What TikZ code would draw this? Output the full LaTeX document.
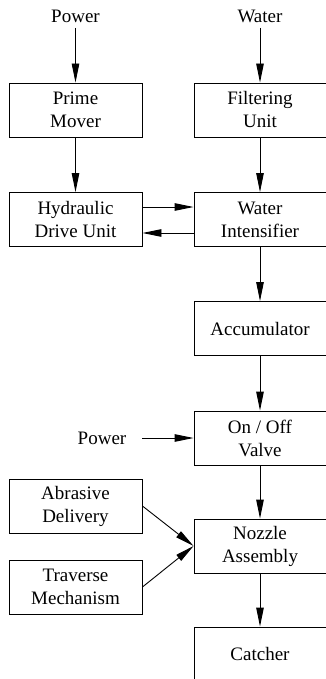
\documentclass[tikz,border=0pt]{standalone}
\usepackage{fontspec}
\setmainfont{Liberation Serif}
\usetikzlibrary{arrows.meta}
\begin{document}
\begin{tikzpicture}[x=1pt,y=-1pt,
  box/.style={draw,line width=0.9pt,minimum width=133pt,minimum height=54pt,inner sep=0pt,align=center,
    font=\fontsize{19}{23}\selectfont},
  rbox/.style={box,minimum width=132pt},
  lab/.style={font=\fontsize{19}{23}\selectfont,inner sep=0pt},
  arr/.style={line width=0.9pt,-{Triangle[length=19pt,width=7.5pt]}}]
\useasboundingbox (0,0) rectangle (326,679);
\node[lab] (pw1) at (75.5,16) {Power};
\node[lab] (wt) at (260,16) {Water};
\node[box] (pm) at (75.5,110) {Prime\\Mover};
\node[rbox] (fu) at (260,110) {Filtering\\Unit};
\node[box] (hd) at (75.5,219.5) {Hydraulic\\Drive Unit};
\node[rbox] (wi) at (260,219.5) {Water\\Intensifier};
\node[rbox] (ac) at (260,328.5) {Accumulator};
\node[rbox] (ov) at (260,438) {On / Off\\Valve};
\node[lab] (pw2) at (102,438) {Power};
\node[box] (ad) at (75.5,506) {Abrasive\\Delivery};
\node[rbox] (nz) at (260,546) {Nozzle\\Assembly};
\node[box] (tm) at (75.5,587) {Traverse\\Mechanism};
\node[rbox] (ca) at (260,654) {Catcher};
\coordinate (p1) at (75.5,28);
\coordinate (w1) at (260,28);
\coordinate (p2) at (142,438);
\draw[arr] (p1) -- (pm.north);
\draw[arr] (w1) -- (fu.north);
\draw[arr] (pm) -- (hd);
\draw[arr] (fu) -- (wi);
\draw[arr] (hd.east |- 0,207) -- (wi.west |- 0,207);
\draw[arr] (wi.west |- 0,233) -- (hd.east |- 0,233);
\draw[arr] (wi) -- (ac);
\draw[arr] (ac) -- (ov);
\draw[arr] (p2) -- (ov.west);
\draw[arr] (ov) -- (nz);
\draw[arr] (ad.east) -- (nz.west);
\draw[arr] (tm.east) -- (nz.west);
\draw[arr] (nz) -- (ca);
\end{tikzpicture}
\end{document}
